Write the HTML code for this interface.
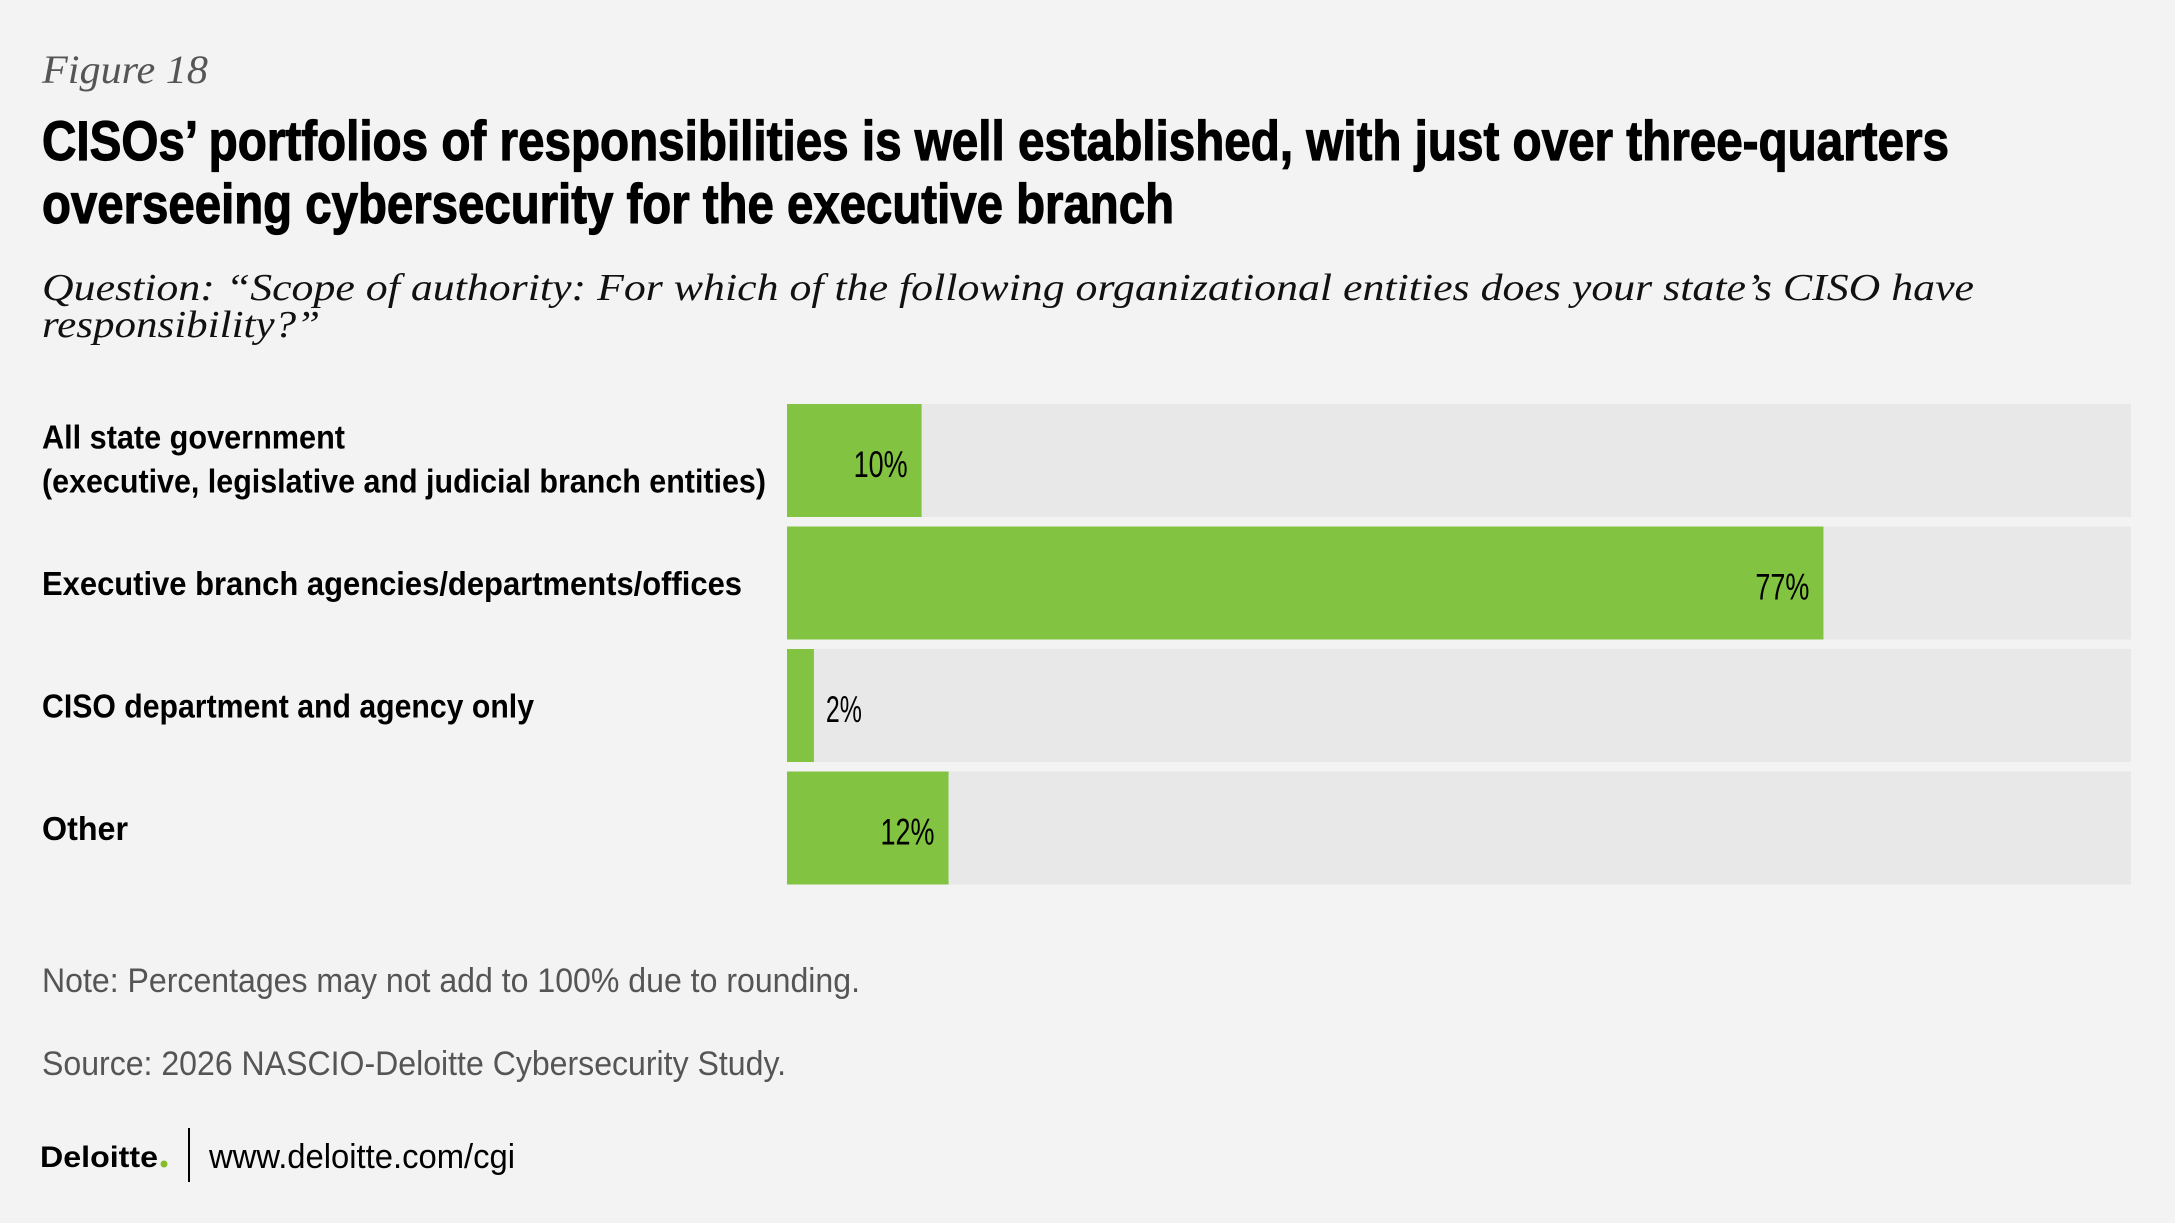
<!DOCTYPE html>
<html><head><meta charset="utf-8"><style>
html,body{margin:0;padding:0;background:#f2f3f2;}
svg{display:block;}
.t{font-family:"Liberation Sans Narrow","Liberation Sans",sans-serif;font-weight:bold;}
</style></head><body>
<svg id="chart" width="2175" height="1223" viewBox="0 0 2175 1223" xmlns="http://www.w3.org/2000/svg">
<rect width="2175" height="1223" fill="#f2f3f2"/>
<text x="42" y="83" font-family="Liberation Serif, serif" font-style="italic" font-size="40" fill="#555" textLength="166" lengthAdjust="spacingAndGlyphs">Figure 18</text>
<text class="t" x="42" y="160" font-size="56" fill="#000" stroke="#000" stroke-width="1.2" textLength="1907" lengthAdjust="spacingAndGlyphs">CISOs’ portfolios of responsibilities is well established, with just over three-quarters</text>
<text class="t" x="42" y="223" font-size="56" fill="#000" stroke="#000" stroke-width="1.2" textLength="1132" lengthAdjust="spacingAndGlyphs">overseeing cybersecurity for the executive branch</text>
<text x="42" y="300" font-family="Liberation Serif, serif" font-style="italic" font-size="38" fill="#111" textLength="1932" lengthAdjust="spacingAndGlyphs">Question: “Scope of authority: For which of the following organizational entities does your state’s CISO have</text>
<text x="42" y="337" font-family="Liberation Serif, serif" font-style="italic" font-size="38" fill="#111" textLength="278" lengthAdjust="spacingAndGlyphs">responsibility?”</text>
<g id="bars"></g>
<text x="42" y="992" font-family="Liberation Sans Narrow, Liberation Sans, sans-serif" font-size="34" fill="#555" textLength="818" lengthAdjust="spacingAndGlyphs">Note: Percentages may not add to 100% due to rounding.</text>
<text x="42" y="1075" font-family="Liberation Sans Narrow, Liberation Sans, sans-serif" font-size="34" fill="#555" textLength="744" lengthAdjust="spacingAndGlyphs">Source: 2026 NASCIO-Deloitte Cybersecurity Study.</text>
<text x="40" y="1167" font-family="Liberation Sans, sans-serif" font-weight="bold" font-size="30" fill="#000" textLength="118" lengthAdjust="spacingAndGlyphs">Deloitte</text>
<circle cx="164" cy="1164" r="3.5" fill="#86bc25"/>
<line x1="189" y1="1128" x2="189" y2="1182" stroke="#000" stroke-width="2"/>
<text x="209" y="1168" font-family="Liberation Sans Narrow, Liberation Sans, sans-serif" font-size="34" fill="#000" textLength="306" lengthAdjust="spacingAndGlyphs">www.deloitte.com/cgi</text>
</svg>
<script>
const categories = [
  ["All state government","(executive, legislative and judicial branch entities)"],
  ["Executive branch agencies/departments/offices"],
  ["CISO department and agency only"],
  ["Other"]
];
const values = [10, 77, 2, 12];
const valueLabels = ["10%", "77%", "2%", "12%"];

const NS = "http://www.w3.org/2000/svg";
const g = document.getElementById('bars');
const x0 = 787, trackW = 1344, top0 = 404, pitch = 122.5, barH = 113, scale = 13.46;
function xScale(v){ return x0 + v * scale; }
function yPos(i){ return top0 + i * pitch; }
const labelLens = [[303,724],[700],[492],[86]];
function mk(tag, attrs){ const e = document.createElementNS(NS, tag); for (const k in attrs) e.setAttribute(k, attrs[k]); return e; }
categories.forEach((cat, i) => {
  const y = yPos(i);
  const track = mk('rect', {x: x0, y: y, width: trackW, height: barH, fill: '#e7e8e7'});
  
  
  g.appendChild(track);
  const w = xScale(values[i]) - x0;
  const bar = mk('rect', {x: x0, y: y, width: w, height: barH, fill: '#82c341'});
  
  
  g.appendChild(bar);
  const inside = values[i] >= 5;
  const lbl = valueLabels[i];
  const vt = mk('text', {x: inside ? xScale(values[i]) - 14 : xScale(values[i]) + 12, y: y + 73, 'text-anchor': inside ? 'end' : 'start', 'font-family': 'Liberation Sans Narrow, Liberation Sans, sans-serif', 'font-size': 37, fill: '#000', textLength: lbl.length * 18, lengthAdjust: 'spacingAndGlyphs'});
  vt.textContent = lbl;
  
  
  g.appendChild(vt);
  const cy = y + barH / 2;
  cat.forEach((line, j) => {
    const ly = cat.length === 2 ? cy - 2 + (j === 0 ? -22 : 22) + 12 : cy + 12;
    const t = mk('text', {x: 42, y: ly, 'class': 't', 'font-size': 33, fill: '#000', textLength: labelLens[i][j], lengthAdjust: 'spacingAndGlyphs'});
    t.textContent = line;
    
    
    g.appendChild(t);
  });
});
</script>
</body></html>
